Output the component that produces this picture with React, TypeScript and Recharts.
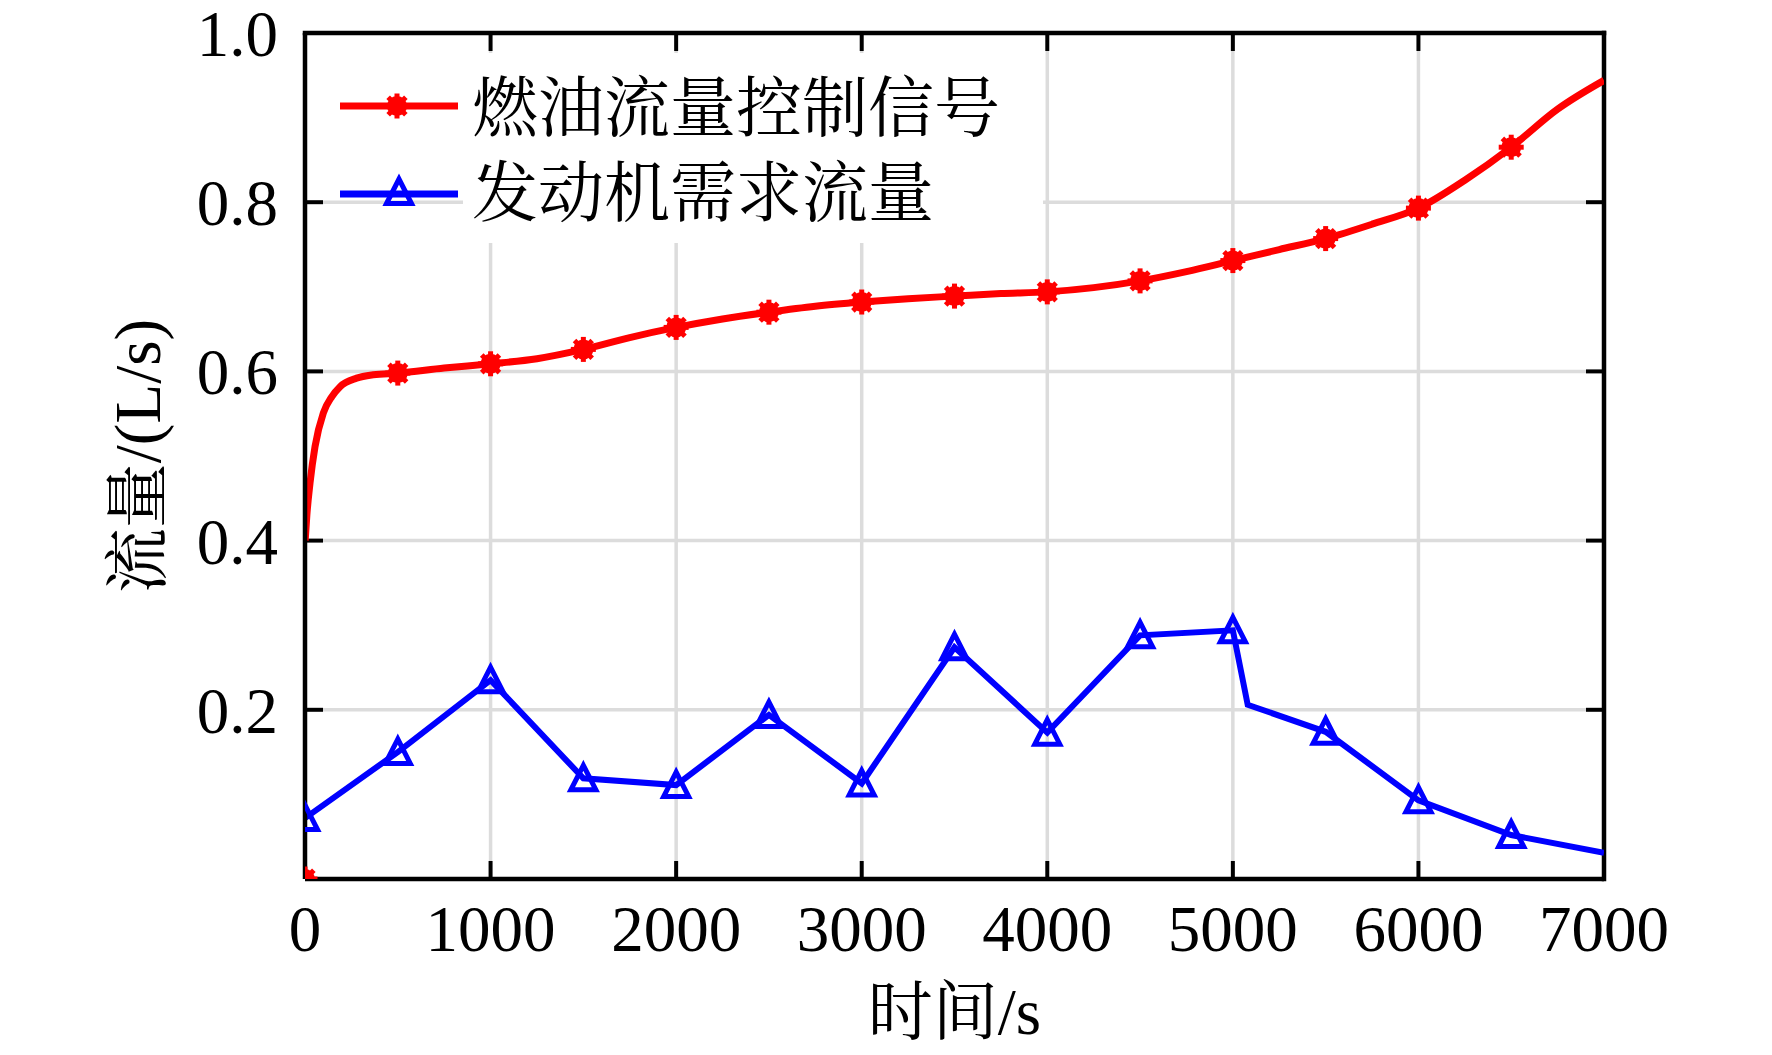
import React from 'react';
import { LineChart, Line, XAxis, YAxis, CartesianGrid, Legend, Label } from 'recharts';

// ---- data ----
const fuelTime = [1, 10, 27, 54, 99, 144, 189, 278, 368, 500, 750, 1000, 1250, 1500, 1750, 2000, 2250, 2500, 2750, 3000, 3250, 3500, 3750, 4000, 4250, 4500, 4750, 5000, 5250, 5500, 5750, 6000, 6250, 6500, 6750, 7000];
const fuelFlow = [0.40, 0.43, 0.468, 0.511, 0.551, 0.570, 0.582, 0.592, 0.596, 0.598, 0.604, 0.609, 0.615, 0.626, 0.640, 0.652, 0.662, 0.670, 0.677, 0.682, 0.686, 0.689, 0.692, 0.694, 0.699, 0.707, 0.718, 0.731, 0.744, 0.757, 0.774, 0.793, 0.826, 0.865, 0.910, 0.944];
// the fuel signal's first sample (t = 0) sits at zero
const fuelOriginTime = [0];
const fuelOriginFlow = [0];

const demandTime = [0, 500, 1000, 1500, 2000, 2500, 3000, 3500, 4000, 4500, 5000, 5080, 5500, 6000, 6500, 7000];
const demandFlow = [0.072, 0.150, 0.235, 0.119, 0.111, 0.194, 0.113, 0.274, 0.173, 0.288, 0.294, 0.206, 0.174, 0.093, 0.052, 0.031];

const xTicks = [0, 1000, 2000, 3000, 4000, 5000, 6000, 7000];
const yTicks = [0.2, 0.4, 0.6, 0.8, 1.0];

const seriesNames = ['燃油流量控制信号', '发动机需求流量'];
const xTitle = '时间/s';
const yTitle = '流量/(L/s)';

const fuelData = fuelTime.map((t, i) => ({ t, v: fuelFlow[i] }));
const fuelOriginData = fuelOriginTime.map((t, i) => ({ t, v: fuelOriginFlow[i] }));
const demandData = demandTime.map((t, i) => ({ t, v: demandFlow[i] }));

// ---- styles ----
const FONT = "'Times New Roman', 'Liberation Serif', 'Noto Serif CJK SC', 'Noto Sans CJK SC', serif";
const RED = '#ff0000';
const BLUE = '#0000ff';
const GRID = '#dcdcdc';
const GRID_W = 3.5;
const MARK_STEP = 500;
const MARK_END = 7000;
const TICK_LEN = 18;
const TICK_W = 4;
const FRAME_W = 4.5;
const RED_W = 7;
const BLUE_W = 6;
const LABEL_GAP_X = 26; // bottom axis -> label top
const LABEL_GAP_Y = 27; // left axis -> label right edge

const StarMark = ({ cx, cy }: { cx: number; cy: number }) => {
  const r = 12.5;
  return (
    <g>
      <circle cx={cx} cy={cy} r={10} fill={RED} />
      {[0, 45, 90, 135].map((a) => {
        const dx = r * Math.cos((a * Math.PI) / 180);
        const dy = r * Math.sin((a * Math.PI) / 180);
        return <line key={a} x1={cx - dx} y1={cy - dy} x2={cx + dx} y2={cy + dy} stroke={RED} strokeWidth={5} />;
      })}
    </g>
  );
};

const TriMark = ({ cx, cy }: { cx: number; cy: number }) => (
  <polygon
    points={`${cx},${cy - 13} ${cx - 12.5},${cy + 11.5} ${cx + 12.5},${cy + 11.5}`}
    fill="none"
    stroke={BLUE}
    strokeWidth={5}
  />
);

const isMarked = (p: any) => p && p.t % MARK_STEP === 0 && p.t < MARK_END;

const FuelDot = (props: any) => {
  const { cx, cy, payload, index } = props;
  if (!isMarked(payload)) return <g key={`f${index}`} />;
  return <g key={`f${index}`}><StarMark cx={cx} cy={cy} /></g>;
};

const DemandDot = (props: any) => {
  const { cx, cy, payload, index } = props;
  if (!isMarked(payload)) return <g key={`d${index}`} />;
  return <g key={`d${index}`}><TriMark cx={cx} cy={cy} /></g>;
};

// tick labels
const BottomTick = (props: any) => {
  const { x, y, payload } = props;
  return (
    <text x={x} y={y} dy="0.71em" textAnchor="middle" fontSize={65} fontFamily={FONT} fill="#000">
      {payload.value}
    </text>
  );
};

const LeftTick = (props: any) => {
  const { x, y, payload } = props;
  return (
    <text x={x} y={y} dy="0.355em" textAnchor="end" fontSize={65} fontFamily={FONT} fill="#000">
      {Number(payload.value).toFixed(1)}
    </text>
  );
};

// grid lines (interior), inward tick marks on all four sides, and the top/right frame
const GridH = (props: any) => {
  const { x1, x2, y1, y, height, index } = props;
  const k = `gh${index}`;
  if (y1 <= y + 1) {
    return <line key={k} x1={x1} x2={x2} y1={y1} y2={y1} stroke="#000" strokeWidth={FRAME_W} strokeLinecap="square" />;
  }
  if (y1 >= y + height - 1) return <g key={k} />;
  return (
    <g key={k}>
      <line x1={x1 + TICK_LEN} x2={x2 - TICK_LEN} y1={y1} y2={y1} stroke={GRID} strokeWidth={GRID_W} />
      <line x1={x1} x2={x1 + TICK_LEN} y1={y1} y2={y1} stroke="#000" strokeWidth={TICK_W} />
      <line x1={x2 - TICK_LEN} x2={x2} y1={y1} y2={y1} stroke="#000" strokeWidth={TICK_W} />
    </g>
  );
};

const GridV = (props: any) => {
  const { x1, y1, y2, x, width, index } = props;
  const k = `gv${index}`;
  const top = Math.min(y1, y2);
  const bottom = Math.max(y1, y2);
  if (x1 <= x + 1) return <g key={k} />;
  if (x1 >= x + width - 1) {
    return <line key={k} x1={x1} x2={x1} y1={top} y2={bottom} stroke="#000" strokeWidth={FRAME_W} strokeLinecap="square" />;
  }
  return (
    <g key={k}>
      <line x1={x1} x2={x1} y1={top + TICK_LEN} y2={bottom - TICK_LEN} stroke={GRID} strokeWidth={GRID_W} />
      <line x1={x1} x2={x1} y1={top} y2={top + TICK_LEN} stroke="#000" strokeWidth={TICK_W} />
      <line x1={x1} x2={x1} y1={bottom - TICK_LEN} y2={bottom} stroke="#000" strokeWidth={TICK_W} />
    </g>
  );
};

const XTitle = (props: any) => {
  const vb = props.viewBox || {};
  return (
    <text x={vb.x + vb.width / 2} y={vb.y + 155} textAnchor="middle" fontSize={65} fontFamily={FONT} fill="#000">
      {xTitle}
    </text>
  );
};

const YTitle = (props: any) => {
  const vb = props.viewBox || {};
  const cx = vb.x + 160;
  const cy = vb.y + vb.height / 2;
  return (
    <text x={cx} y={cy} transform={`rotate(-90, ${cx}, ${cy})`} textAnchor="middle" fontSize={65} fontFamily={FONT} fill="#000">
      {yTitle}
    </text>
  );
};

const renderLegend = () => (
  <svg width={1100} height={260} style={{ display: 'block' }}>
    <rect x={463} y={53} width={580} height={190} fill="#ffffff" />
    <line x1={340} x2={458} y1={106} y2={106} stroke={RED} strokeWidth={RED_W} />
    <StarMark cx={397} cy={106} />
    <text x={472} y={131} fontSize={66} fontFamily={FONT} fill="#000">{seriesNames[0]}</text>
    <line x1={340} x2={458} y1={194} y2={194} stroke={BLUE} strokeWidth={RED_W} />
    <TriMark cx={399} cy={192} />
    <text x={472} y={216} fontSize={66} fontFamily={FONT} fill="#000">{seriesNames[1]}</text>
  </svg>
);

const axisLine = { stroke: '#000', strokeWidth: FRAME_W };

export default function App() {
  return (
    <div style={{ position: 'absolute', left: 0, top: 0, width: 1772, height: 1055, background: '#fff' }}>
      <LineChart width={1772} height={1055} margin={{ top: 33, right: 168, bottom: 0, left: 0 }}>
        <CartesianGrid xAxisId="b" yAxisId="l" stroke={GRID} strokeWidth={GRID_W} horizontal={GridH} vertical={GridV} />
        <XAxis
          xAxisId="b"
          type="number"
          dataKey="t"
          domain={[0, 7000]}
          ticks={xTicks}
          interval={0}
          allowDataOverflow
          height={176}
          tickSize={0}
          tickMargin={LABEL_GAP_X}
          axisLine={axisLine}
          tickLine={false}
          tick={<BottomTick />}
        >
          <Label content={<XTitle />} />
        </XAxis>
        <YAxis
          yAxisId="l"
          type="number"
          domain={[0, 1]}
          ticks={yTicks}
          interval={0}
          allowDataOverflow
          width={305}
          tickSize={0}
          tickMargin={LABEL_GAP_Y}
          axisLine={axisLine}
          tickLine={false}
          tick={<LeftTick />}
        >
          <Label content={<YTitle />} />
        </YAxis>
        <Line
          xAxisId="b"
          yAxisId="l"
          data={fuelData}
          dataKey="v"
          name={seriesNames[0]}
          type="monotone"
          stroke={RED}
          strokeWidth={RED_W}
          dot={FuelDot}
          activeDot={false}
          isAnimationActive={false}
        />
        <Line
          xAxisId="b"
          yAxisId="l"
          data={fuelOriginData}
          dataKey="v"
          name={seriesNames[0]}
          stroke="none"
          dot={FuelDot}
          activeDot={false}
          legendType="none"
          isAnimationActive={false}
        />
        <Line
          xAxisId="b"
          yAxisId="l"
          data={demandData}
          dataKey="v"
          name={seriesNames[1]}
          type="linear"
          stroke={BLUE}
          strokeWidth={BLUE_W}
          dot={DemandDot}
          activeDot={false}
          isAnimationActive={false}
        />
        <Legend
          layout="vertical"
          verticalAlign="middle"
          align="center"
          wrapperStyle={{ position: 'absolute', left: 0, top: 0, width: 1100, height: 260 }}
          content={renderLegend}
        />
      </LineChart>
    </div>
  );
}
